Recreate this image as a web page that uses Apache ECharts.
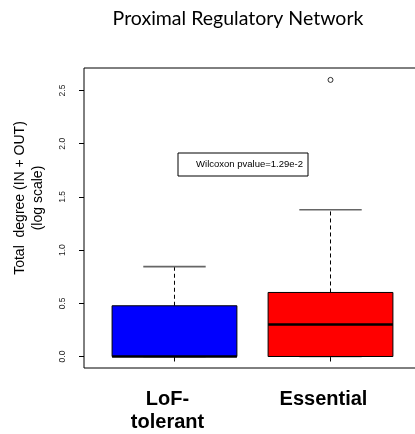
<!DOCTYPE html>
<html>
<head>
<meta charset="utf-8">
<script src="https://cdn.jsdelivr.net/npm/echarts@6/dist/echarts.min.js"></script>
<style>
html,body{margin:0;padding:0;background:#fff;}
#chart{width:415px;height:434px;}
</style>
</head>
<body>
<div id="chart"></div>
<script>
// ---- data (log10 scale values) ----
const categories = ['LoF-\ntolerant', 'Essential'];
const lowerWhisker = [0, 0];
const q1Values = [0, 0];
const medianValues = [0, 0.301];
const q3Values = [0.477, 0.602];
const upperWhisker = [0.845, 1.38];
const outliers = [[2, 2.60]]; // [group position, value]
const yTicks = [0, 0.5, 1.0, 1.5, 2.0, 2.5];
const boxColors = ['#0000ff', '#ff0000'];
const titleText = 'Proximal Regulatory Network';
const yTitle = 'Total  degree (IN + OUT)\n(log scale)';
const legendText = 'Wilcoxon pvalue=1.29e-2';

const boxData = categories.map((c, i) => [i + 1, lowerWhisker[i], q1Values[i], medianValues[i], q3Values[i], upperWhisker[i], i]);

const chart = echarts.init(document.getElementById('chart'), null, {renderer: 'canvas'});

function renderBox(params, api) {
  const x = api.value(0);
  const lo = api.value(1), q1 = api.value(2), med = api.value(3), q3 = api.value(4), hi = api.value(5);
  const ci = api.value(6);
  const half = 0.4, capHalf = 0.2;
  const pL = api.coord([x - half, q3]);
  const pR = api.coord([x + half, q1]);
  const pC = api.coord([x, 0]);
  const yHi = api.coord([x, hi])[1];
  const yLo = api.coord([x, lo])[1];
  const yQ3 = api.coord([x, q3])[1];
  const yQ1 = api.coord([x, q1])[1];
  const yMed = api.coord([x, med])[1];
  const capL = api.coord([x - capHalf, 0])[0];
  const capR = api.coord([x + capHalf, 0])[0];
  const children = [];
  children.push({type: 'line', shape: {x1: pC[0], y1: yQ3, x2: pC[0], y2: yHi}, style: {stroke: '#000', lineWidth: 1, lineDash: [4, 3]}});
  if (yLo !== yQ1) children.push({type: 'line', shape: {x1: pC[0], y1: yQ1, x2: pC[0], y2: yLo}, style: {stroke: '#000', lineWidth: 1, lineDash: [4, 3]}});
  children.push({type: 'line', shape: {x1: capL, y1: yHi, x2: capR, y2: yHi}, style: {stroke: '#666', lineWidth: 1.6}});
  children.push({type: 'line', shape: {x1: capL, y1: yLo, x2: capR, y2: yLo}, style: {stroke: '#666', lineWidth: 1.6}});
  children.push({type: 'rect', shape: {x: pL[0], y: yQ3, width: pR[0] - pL[0], height: yQ1 - yQ3}, style: {fill: boxColors[ci], stroke: '#000', lineWidth: 1}});
  children.push({type: 'line', shape: {x1: pL[0], y1: yMed, x2: pR[0], y2: yMed}, style: {stroke: '#000', lineWidth: 2.5}});
  return {type: 'group', children: children};
}

const option = {
  backgroundColor: '#fff',
  animation: false,
  grid: {left: 84, top: 68, right: -6, bottom: 66, show: true, borderColor: '#000', borderWidth: 1, backgroundColor: 'transparent', outerBoundsMode: 'none'},
  xAxis: {
    type: 'value', min: 0.42, max: 2.58,
    splitLine: {show: false},
    axisLine: {show: false},
    axisTick: {show: true, inside: false, length: 5, lineStyle: {color: '#000'}, customValues: [1, 2]},
    axisLabel: {
      show: true, customValues: [1, 2], margin: 20,
      formatter: v => categories[Math.round(v) - 1],
      fontFamily: 'Liberation Sans, Arial', fontWeight: 'bold', fontSize: 20, lineHeight: 23, color: '#000',
      padding: [0, 14, 0, 0]
    }
  },
  yAxis: {
    type: 'value', min: -0.108, max: 2.712,
    splitLine: {show: false},
    axisLine: {show: false},
    axisTick: {show: true, inside: false, length: 5, lineStyle: {color: '#000'}, customValues: yTicks},
    axisLabel: {
      show: true, customValues: yTicks, rotate: 90, margin: 17,
      formatter: v => v.toFixed(1),
      fontFamily: 'Liberation Sans, Arial', fontSize: 8.5, color: '#222'
    }
  },
  series: [
    {type: 'custom', renderItem: renderBox, data: boxData, encode: {x: 0, y: [1, 2, 3, 4, 5]}, z: 2},
    {type: 'scatter', data: outliers, symbol: 'circle', symbolSize: 5, itemStyle: {color: '#fff', borderColor: '#000', borderWidth: 1}, z: 3}
  ],
  graphic: [
    {type: 'text', x: 238, y: 19, style: {text: titleText, fontFamily: 'Lato', fontSize: 19.5, fill: '#000', align: 'center', verticalAlign: 'middle'}},
    {type: 'text', x: 29, y: 198, rotation: Math.PI / 2, style: {text: yTitle, fontFamily: 'Liberation Sans, Arial', fontSize: 14, lineHeight: 18, fill: '#000', align: 'center', verticalAlign: 'middle'}},
    {type: 'rect', shape: {x: 178, y: 153, width: 130, height: 23}, style: {fill: '#fff', stroke: '#000', lineWidth: 1}, z: 10},
    {type: 'text', x: 303, y: 164.5, style: {text: legendText, fontFamily: 'Liberation Sans, Arial', fontSize: 9.5, fill: '#000', align: 'right', verticalAlign: 'middle'}, z: 11}
  ]
};
chart.setOption(option);
</script>
</body>
</html>
